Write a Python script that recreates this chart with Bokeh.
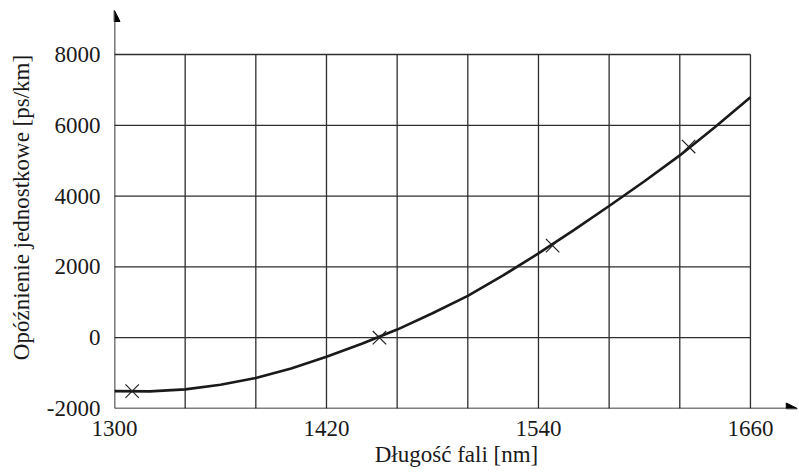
from bokeh.plotting import figure
from bokeh.models import FixedTicker, Arrow, NormalHead, Range1d
from bokeh.embed import file_html
from bokeh.resources import INLINE

# Curve (wavelength in nm, delay in ps/km)
wavelength = [1300, 1320, 1340, 1360, 1380, 1400, 1420, 1440, 1460, 1480,
              1500, 1520, 1540, 1560, 1580, 1600, 1620, 1640, 1660]
delay = [-1510, -1515, -1460, -1330, -1140, -870, -540, -170, 230, 690,
         1180, 1760, 2380, 3040, 3720, 4420, 5150, 5950, 6790]

# Measured points (x markers)
marker_wavelength = [1310, 1450, 1548, 1625]
marker_delay = [-1510, 0, 2600, 5400]

# Grid / ticks
x_grid = [1300, 1340, 1380, 1420, 1460, 1500, 1540, 1580, 1620, 1660]
x_ticks = [1300, 1420, 1540, 1660]
y_ticks = [-2000, 0, 2000, 4000, 6000, 8000]
y_tick_labels = ["-2000", "0", "2000", "4000", "6000", "8000"]

x_label = "Długość fali [nm]"
y_label = "Opóźnienie jednostkowe [ps/km]"

FONT = "Liberation Serif"
INK = "#1a1a1a"
GRID = "#2e2e2e"

p = figure(width=799, height=474, output_backend="svg", toolbar_location=None,
           x_range=Range1d(1300, 1687.2), y_range=Range1d(-2000, 9356),
           min_border_left=114, min_border_right=1, min_border_top=6,
           min_border_bottom=66)
p.outline_line_color = None
p.grid.visible = False
p.background_fill_color = "white"
p.border_fill_color = "white"

# grid lines (vertical and horizontal) forming a closed box
vx = x_grid[1:]
p.segment(x0=vx, x1=vx, y0=[y_ticks[0]] * len(vx), y1=[y_ticks[-1]] * len(vx),
          line_color=GRID, line_width=1.3)
hy = y_ticks[1:]
p.segment(x0=[x_grid[0]] * len(hy), x1=[x_grid[-1]] * len(hy), y0=hy, y1=hy,
          line_color=GRID, line_width=1.3)

# axis lines with arrow heads
p.add_layout(Arrow(end=NormalHead(size=11, fill_color="black", line_color="black"),
                   x_start=x_grid[0], y_start=y_ticks[0], x_end=x_grid[0], y_end=9243,
                   line_color="black", line_width=1.6))
p.add_layout(Arrow(end=NormalHead(size=11, fill_color="black", line_color="black"),
                   x_start=x_grid[0], y_start=y_ticks[0], x_end=1686.5, y_end=y_ticks[0],
                   line_color="black", line_width=1.6))

# curve and markers
p.line(wavelength, delay, line_color=INK, line_width=2.6)
p.scatter(marker_wavelength, marker_delay, marker="x", size=19,
          line_color="#222222", line_width=1.2)

# axes
for ax in (p.xaxis[0], p.yaxis[0]):
    ax.axis_line_color = None
    ax.major_tick_line_color = None
    ax.minor_tick_line_color = None
    ax.major_tick_in = 0
    ax.major_tick_out = 0
    ax.minor_tick_in = 0
    ax.minor_tick_out = 0
    ax.major_label_text_font = FONT
    ax.major_label_text_font_size = "23px"
    ax.major_label_text_color = INK
    ax.axis_label_text_font = FONT
    ax.axis_label_text_font_size = "23px"
    ax.axis_label_text_font_style = "normal"
    ax.axis_label_text_color = INK

p.xaxis.ticker = FixedTicker(ticks=x_ticks)
p.xaxis.bounds = (1300, 1665)
p.xaxis.major_label_standoff = 12
p.xaxis.axis_label = x_label
p.xaxis.axis_label_standoff = 3

p.yaxis.ticker = FixedTicker(ticks=y_ticks)
p.yaxis.bounds = (-2000, 8600)
p.yaxis.major_label_overrides = {t: s for t, s in zip(y_ticks, y_tick_labels)}
p.yaxis.major_label_standoff = 14
p.yaxis.axis_label = y_label
p.yaxis.axis_label_standoff = 10

open("out.html", "w").write(file_html(p, INLINE))
